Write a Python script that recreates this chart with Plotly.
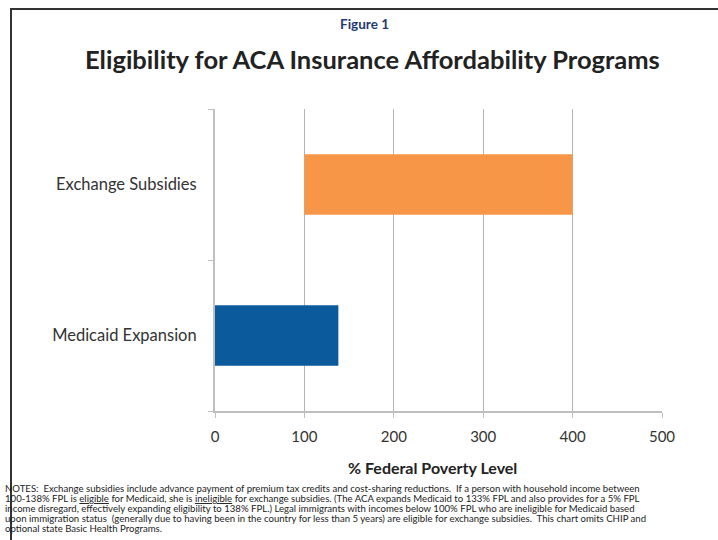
import plotly.graph_objects as go

categories = ["Medicaid Expansion", "Exchange Subsidies"]
starts = [0, 100]
ends = [138, 400]
colors = ["#0B5A9C", "#F79646"]
x_ticks = [0, 100, 200, 300, 400, 500]

note_lines = [
    "NOTES:  Exchange subsidies include advance payment of premium tax credits and cost-sharing reductions.  If a person with household income between",
    "100-138% FPL is <span style='text-decoration:underline'>eligible</span> for Medicaid, she is <span style='text-decoration:underline'>ineligible</span> for exchange subsidies. (The ACA expands Medicaid to 133% FPL and also provides for a 5% FPL",
    "income disregard, effectively expanding eligibility to 138% FPL.) Legal immigrants with incomes below 100% FPL who are ineligible for Medicaid based",
    "upon immigration status  (generally due to having been in the country for less than 5 years) are eligible for exchange subsidies.  This chart omits CHIP and",
    "optional state Basic Health Programs.",
]

FONT = "Lato"
W, H = 718, 540
ML, MR, MT, MB = 215, 56, 109, 129
pw = W - ML - MR
ph = H - MT - MB


def px(x):
    return (x - ML) / pw


def py(y):
    return (H - MB - y) / ph


fig = go.Figure()
fig.add_trace(go.Bar(
    y=categories,
    x=[e - s for s, e in zip(starts, ends)],
    base=starts,
    orientation="h",
    marker=dict(color=colors, line=dict(width=0)),
    width=0.4,
    hoverinfo="skip",
))

annotations = [
    dict(text="<b>Figure 1</b>", x=px(364), y=py(24), xanchor="center", yanchor="middle",
         font=dict(size=13.5, color="#1F3A70", family=FONT)),
    dict(text="<b>Eligibility for ACA Insurance Affordability Programs</b>",
         x=px(372), y=py(59), xanchor="center", yanchor="middle",
         font=dict(size=25.5, color="#222222", family=FONT)),
    dict(text="<b>% Federal Poverty Level</b>", x=px(432), y=py(467),
         xanchor="center", yanchor="middle",
         font=dict(size=16, color="#222222", family=FONT)),
]
for i, line in enumerate(note_lines):
    annotations.append(dict(
        text=line, x=px(3), y=py(488 + 10 * i), xanchor="left", yanchor="middle",
        align="left", font=dict(size=9.6, color="#222222", family=FONT)))
for a in annotations:
    a.update(xref="paper", yref="paper", showarrow=False)

fig.update_layout(
    width=W, height=H,
    margin=dict(l=ML, r=MR, t=MT, b=MB),
    paper_bgcolor="white", plot_bgcolor="white",
    showlegend=False,
    font=dict(family=FONT, color="#333333"),
    xaxis=dict(
        range=[0, 500], tickvals=x_ticks, ticktext=[str(v) for v in x_ticks],
        showgrid=True, gridcolor="#B3B3B3", gridwidth=1,
        showline=True, linecolor="#BFBFBF", linewidth=2,
        ticks="outside", ticklen=5, tickcolor="#BFBFBF", tickwidth=1,
        tickfont=dict(size=15, color="#333333"), zeroline=False,
        ticklabelstandoff=6, fixedrange=True,
    ),
    yaxis=dict(
        type="category", categoryorder="array", categoryarray=categories,
        range=[-0.5, 1.5],
        showline=True, linecolor="#BFBFBF", linewidth=2,
        ticks="outside", ticklen=5, tickcolor="#BFBFBF", tickwidth=1,
        tickson="boundaries", showgrid=False,
        tickfont=dict(size=16.5, color="#333333"), ticklabelstandoff=13,
        fixedrange=True,
    ),
    annotations=annotations,
)

# Outer frame (top and left edges)
fig.add_shape(type="line", xref="paper", yref="paper", x0=px(10), x1=px(720),
              y0=py(9), y1=py(9), line=dict(color="#333333", width=2))
fig.add_shape(type="line", xref="paper", yref="paper", x0=px(11), x1=px(11),
              y0=py(8), y1=py(545), line=dict(color="#333333", width=2))

fig.write_html("out.html", config={"displayModeBar": False},
               post_script="document.body.style.margin='0';")
